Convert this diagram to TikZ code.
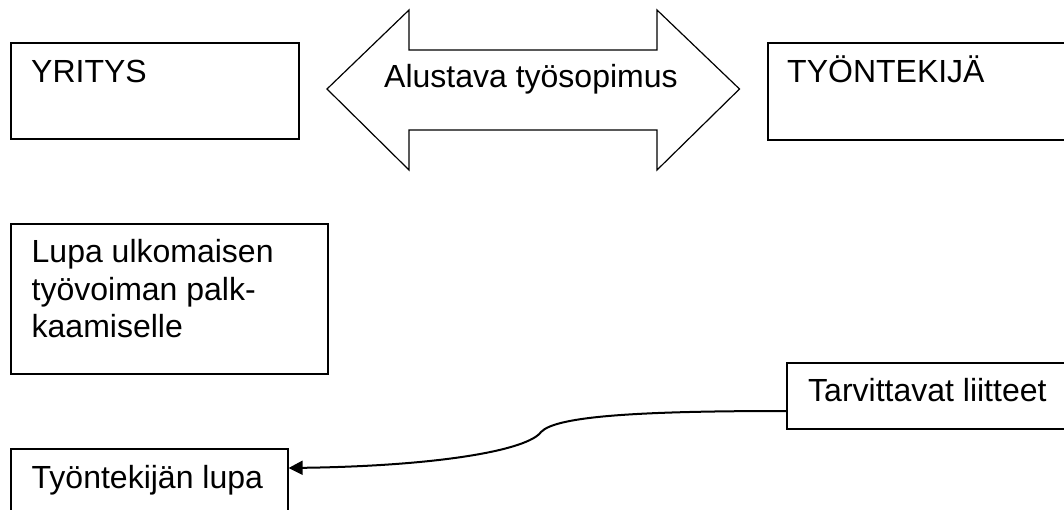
\documentclass[tikz,border=0pt]{standalone}
\usepackage{fontspec}
\setmainfont{Liberation Sans}
\usetikzlibrary{arrows.meta}
\begin{document}
\begin{tikzpicture}[x=1pt,y=-1pt,
  box/.style={draw=black,line width=1.6pt,rectangle,inner sep=0pt,anchor=north west},
  lbl/.style={inner sep=0pt,anchor=base west,font=\fontsize{32}{37}\selectfont},
  conn/.style={line width=2pt,-{Triangle[length=14pt,width=14pt]}},
  bigarrow/.style={draw=black,line width=1.2pt,line join=miter}]
\useasboundingbox (0,0) rectangle (1064,510);
\clip (0,0) rectangle (1064,510);
% boxes
\node[box,minimum width=288pt,minimum height=96pt] (yr) at (10,42) {};
\node[box,minimum width=320pt,minimum height=97pt] (ty) at (767,42) {};
\node[box,minimum width=317pt,minimum height=150pt] (lupa) at (10,223) {};
\node[box,minimum width=300pt,minimum height=66pt] (tl) at (786,362) {};
\node[box,minimum width=277pt,minimum height=90pt] (tlupa) at (10,448) {};
% labels
\node[lbl] (tyr) at (31,83) {YRITYS};
\node[lbl] (tty) at (787,83) {TYÖNTEKIJÄ};
\node[lbl] (tl1) at (31.5,263) {Lupa ulkomaisen};
\node[lbl] (tl2) at (31.5,300) {työvoiman palk-};
\node[lbl] (tl3) at (31.5,337) {kaamiselle};
\node[lbl] (ttl) at (808,401) {Tarvittavat liitteet};
\node[lbl] (ttlupa) at (31.5,488) {Työntekijän lupa};
% double arrow
\draw[bigarrow] (327,89) -- (409,10) -- (409,50) -- (657,50) -- (657,10) -- (739.5,89)
  -- (657,170) -- (657,130) -- (409,130) -- (409,170) -- cycle;
\node[lbl] (ta) at (384,88) {Alustava työsopimus};
% connector
\coordinate (s) at (tl.west |- 0,411);
\coordinate (e) at (tlupa.east |- 0,468);
\draw[conn] (s) .. controls (640,411) and (556,416) .. (541,432)
  .. controls (528,450) and (440,466) .. (e);
\end{tikzpicture}
\end{document}
